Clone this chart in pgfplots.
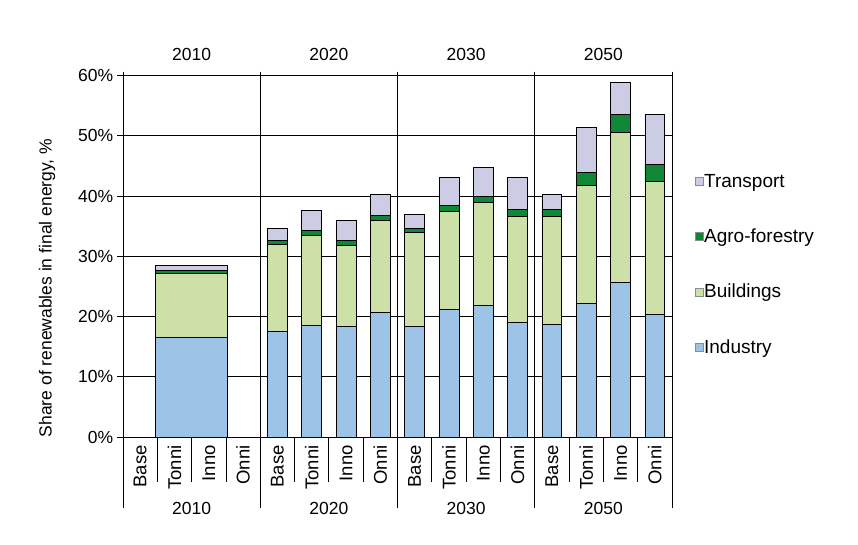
\documentclass[border=0pt]{standalone}
\usepackage{fontspec}
\setmainfont{Liberation Sans}
\usepackage{pgfplots}
\pgfplotsset{compat=1.18}

\definecolor{indu}{RGB}{157,195,230}
\definecolor{buil}{RGB}{204,224,168}
\definecolor{agro}{RGB}{16,135,55}
\definecolor{tran}{RGB}{204,204,228}

\pgfplotsset{
  frame/.style={
    width=549pt, height=361.5pt, scale only axis,
    at={(123pt,107pt)}, anchor=south west,
    xmin=-0.5, xmax=15.5, ymin=0, ymax=60,
  },
  bars/.style={ybar stacked, draw=black, line width=0.8pt},
}

% 2020-2050: x = 4..15 (Base, Tonni, Inno, Onni per year)
\pgfplotstableread{
x  ind  bld  agr  trn
4  17.6 14.4 0.6 2.0
5  18.5 15.0 0.8 3.3
6  18.4 13.4 0.8 3.4
7  20.7 15.3 0.8 3.5
8  18.4 15.6 0.6 2.4
9  21.2 16.3 1.0 4.6
10 21.9 17.1 1.0 4.8
11 19.1 17.5 1.2 5.3
12 18.7 17.9 1.2 2.5
13 22.2 19.6 2.1 7.5
14 25.7 24.9 3.0 5.3
15 20.4 22.0 2.9 8.3
}\mainbars

% 2010: one wide bar
\pgfplotstableread{
x   ind  bld  agr  trn
1.5 16.6 10.6 0.4 0.9
}\basebar

\begin{document}
\begin{tikzpicture}[font=\fontsize{17.5}{21}\selectfont]
\path[use as bounding box] (0,0) rectangle (858pt,544pt);

\begin{axis}[frame,
  bars, bar width=0.58,
  clip=false,
  axis line style={draw=none},
  ymajorgrids, grid style={black, line width=0.8pt},
  ytick={0,10,...,60},
  ytick pos=left, tick align=outside,
  major tick length=6pt,
  ytick style={black, line width=0.8pt},
  yticklabel={\pgfmathprintnumber{\tick}\%},
  /pgf/number format/assume math mode=true,
  xtick={0,...,15},
  xticklabels={Base,Tonni,Inno,Onni,Base,Tonni,Inno,Onni,Base,Tonni,Inno,Onni,Base,Tonni,Inno,Onni},
  xtick style={draw=none},
  xticklabel style={rotate=90, anchor=east, inner sep=2pt, font=\fontsize{18.5}{21}\selectfont},
  yticklabel style={font=\fontsize{17.5}{21}\selectfont},
  ylabel={Share of renewables in final energy, \%},
  every axis y label/.style={at={(axis description cs:-0.1384,0.412)}, rotate=90, anchor=center, font=\fontsize{17.5}{21}\selectfont},
  reverse legend,
  legend style={at={(1.035,0.477)}, anchor=west, draw=none, fill=none,
    row sep=38pt, font=\fontsize{19}{22}\selectfont,
    nodes={inner sep=1pt}},
  legend cell align=left,
  legend image code/.code={\draw[#1, draw=black!45, line width=0.5pt] (0pt,-4pt) rectangle (8pt,4pt);},
]
\addplot[fill=indu] table[x=x, y=ind] {\mainbars};
\addlegendentry{Industry}
\addplot[fill=buil] table[x=x, y=bld] {\mainbars};
\addlegendentry{Buildings}
\addplot[fill=agro] table[x=x, y=agr] {\mainbars};
\addlegendentry{Agro-forestry}
\addplot[fill=tran] table[x=x, y=trn] {\mainbars};
\addlegendentry{Transport}

% group boundaries
\pgfplotsinvokeforeach{-0.5,3.5,7.5,11.5,15.5}{
  \draw[black, line width=0.8pt] ([yshift=4pt]axis cs:#1,60) -- ([yshift=-71pt]axis cs:#1,0);
}
% category separators
\pgfplotsinvokeforeach{0.5,1.5,2.5,4.5,5.5,6.5,8.5,9.5,10.5,12.5,13.5,14.5}{
  \draw[black, line width=0.8pt] (axis cs:#1,0) -- ([yshift=-45pt]axis cs:#1,0);
}
% year labels
\node at ([yshift=21.5pt]axis cs:1.5,60) {2010};
\node at ([yshift=21.5pt]axis cs:5.5,60) {2020};
\node at ([yshift=21.5pt]axis cs:9.5,60) {2030};
\node at ([yshift=21.5pt]axis cs:13.5,60) {2050};
\node at ([yshift=-71pt]axis cs:1.5,0) {2010};
\node at ([yshift=-71pt]axis cs:5.5,0) {2020};
\node at ([yshift=-71pt]axis cs:9.5,0) {2030};
\node at ([yshift=-71pt]axis cs:13.5,0) {2050};
\end{axis}

\begin{axis}[frame, hide axis, bars, bar width=2.1]
\addplot[fill=indu, forget plot] table[x=x, y=ind] {\basebar};
\addplot[fill=buil, forget plot] table[x=x, y=bld] {\basebar};
\addplot[fill=agro, forget plot] table[x=x, y=agr] {\basebar};
\addplot[fill=tran, forget plot] table[x=x, y=trn] {\basebar};
\end{axis}
\end{tikzpicture}
\end{document}
